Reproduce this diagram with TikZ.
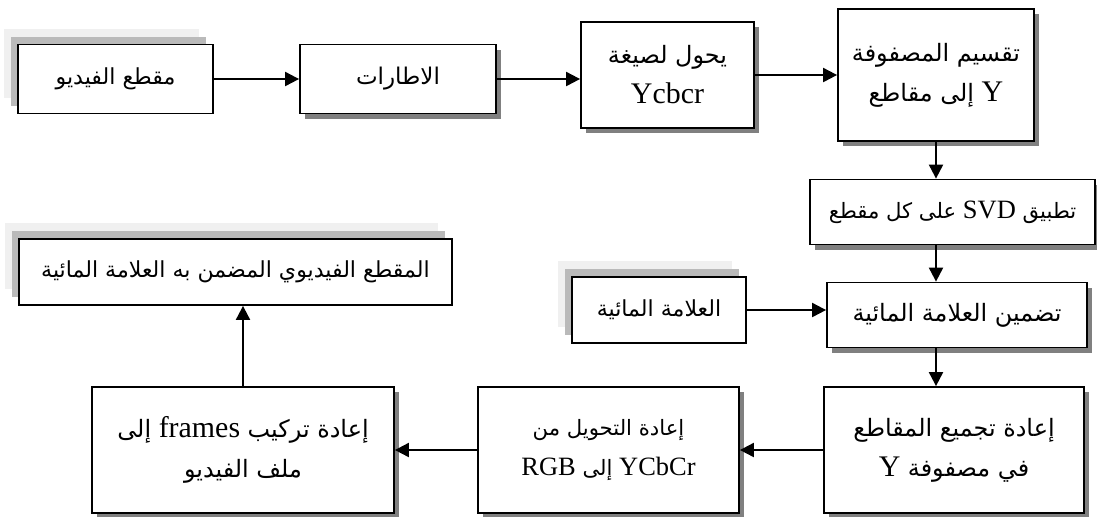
\documentclass[tikz,border=0pt]{standalone}
\usepackage{fontspec}
\setmainfont{Liberation Serif}[Scale=1.15]
\newfontfamily\arabicfont[Script=Arabic,Scale=0.92]{DejaVu Sans}
\TeXXeTstate=1
\usetikzlibrary{arrows.meta,shadows}

\newcommand{\artxt}[1]{{\arabicfont\beginR #1\endR}}
\newcommand{\lat}[1]{{\rmfamily\beginL #1\endL}}

\tikzset{
  stepbox/.style={draw, line width=0.9pt, fill=white, align=center, inner sep=0pt,
    font=\fontsize{13}{20}\selectfont,
    general shadow={fill=black!50, shadow xshift=2.5pt, shadow yshift=-2.5pt}},
  inbox/.style={draw, line width=0.9pt, fill=white, align=center, inner sep=0pt,
    font=\fontsize{12}{20}\selectfont,
    general shadow={fill=black!6, shadow xshift=-7pt, shadow yshift=8pt},
    general shadow={fill=black!27, shadow xshift=-3.5pt, shadow yshift=4pt}},
  flow/.style={line width=1pt, -{Triangle[length=7pt,width=7pt]}},
}

\begin{document}
\begin{tikzpicture}[x=0.5pt,y=-0.5pt]

    \useasboundingbox (0,0) rectangle (1097,516);

    % top row
    \node[inbox, minimum width=97.5pt, minimum height=34.5pt] (vid) at (115.5,79) {\artxt{مقطع الفيديو}};
    \node[stepbox, minimum width=98pt, minimum height=34.5pt, font=\fontsize{12.5}{20}\selectfont] (frm) at (398,79) {\artxt{الاطارات}};
    \node[stepbox, minimum width=86.5pt, minimum height=53pt] (ycc) at (667.5,75) {\artxt{يحول لصيغة}\\\lat{Ycbcr}};
    \node[stepbox, minimum width=98pt, minimum height=66pt] (split) at (936,75) {\artxt{تقسيم المصفوفة}\\\artxt{\lat{Y} إلى مقاطع}};

    % right column
    \node[stepbox, minimum width=142.5pt, minimum height=32.5pt, font=\fontsize{11.5}{20}\selectfont] (svd) at (952.5,212) {\artxt{تطبيق \lat{SVD} على كل مقطع}};
    \node[stepbox, minimum width=130pt, minimum height=32.5pt] (embed) at (957,315) {\artxt{تضمين العلامة المائية}};
    \node[inbox, minimum width=87pt, minimum height=33pt] (wm) at (659,310) {\artxt{العلامة المائية}};

    % bottom row
    \node[stepbox, minimum width=130pt, minimum height=63pt] (regroup) at (954,450) {\artxt{إعادة تجميع المقاطع}\\\artxt{في مصفوفة \lat{Y}}};
    \node[stepbox, minimum width=130.5pt, minimum height=63pt, font=\fontsize{11.5}{20}\selectfont] (torgb) at (608.5,450) {\artxt{إعادة التحويل من}\\\artxt{\lat{YCbCr} إلى \lat{RGB}}};
    \node[stepbox, minimum width=151pt, minimum height=63pt] (rebuild) at (243,450) {\artxt{إعادة تركيب \lat{frames} إلى}\\\artxt{ملف الفيديو}};
    \node[inbox, minimum width=216.5pt, minimum height=33pt] (out) at (235.5,272) {\artxt{المقطع الفيديوي المضمن به العلامة المائية}};

    % connectors
    \draw[flow] (vid.east) -- (frm.west);
    \draw[flow] (frm.east) -- (frm.east -| ycc.west);
    \draw[flow] (ycc.east) -- (ycc.east -| split.west);
    \draw[flow] (split.south) -- (split.south |- svd.north);
    \draw[flow] (split.south |- svd.south) -- (split.south |- embed.north);
    \draw[flow] (wm.east) -- (wm.east -| embed.west);
    \draw[flow] (split.south |- embed.south) -- (split.south |- regroup.north);
    \draw[flow] (regroup.west) -- (torgb.east);
    \draw[flow] (torgb.west) -- (rebuild.east);
    \draw[flow] (rebuild.north) -- (rebuild.north |- out.south);

\end{tikzpicture}
\end{document}
